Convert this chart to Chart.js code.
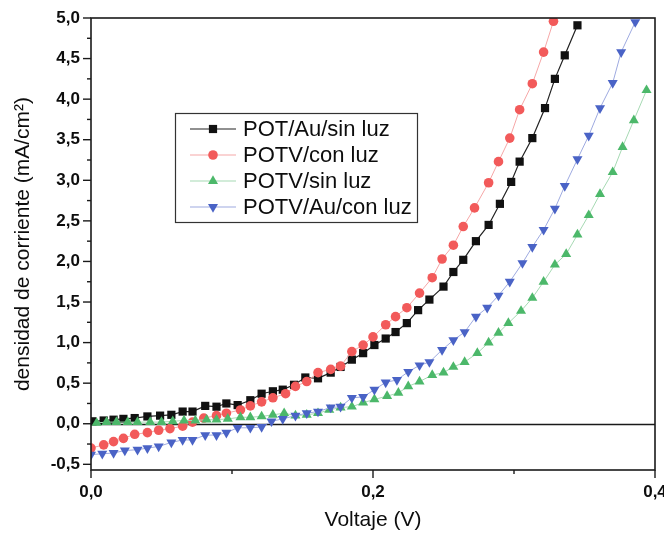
<!DOCTYPE html>
<html><head><meta charset="utf-8">
<script src="https://cdn.jsdelivr.net/npm/chart.js@4.4.1/dist/chart.umd.min.js"></script>
<style>html,body{margin:0;padding:0;background:#fff}canvas{display:block}</style>
</head><body>
<canvas id="c" width="664" height="535"></canvas>
<script>
// ---- data ----
const seriesLabels = ['POT/Au/sin luz', 'POTV/con luz', 'POTV/sin luz', 'POTV/Au/con luz'];

const potAuSinLuzV = [0.001,0.009,0.016,0.023,0.031,0.040,0.049,0.057,0.065,0.072,0.081,0.089,0.096,0.104,0.113,0.121,0.129,0.136,0.144,0.152,0.161,0.170,0.177,0.185,0.193,0.201,0.209,0.216,0.224,0.232,0.240,0.250,0.257,0.264,0.273,0.282,0.290,0.298,0.304,0.313,0.322,0.329,0.336,0.345];
const potAuSinLuzJ = [0.03,0.04,0.05,0.06,0.07,0.09,0.10,0.11,0.15,0.15,0.22,0.21,0.25,0.23,0.29,0.37,0.40,0.42,0.48,0.57,0.56,0.63,0.70,0.79,0.87,0.97,1.05,1.13,1.24,1.40,1.53,1.69,1.87,2.02,2.25,2.45,2.71,2.98,3.23,3.52,3.89,4.25,4.54,4.91];

const potvConLuzV = [0.000,0.009,0.016,0.023,0.031,0.040,0.048,0.056,0.065,0.072,0.080,0.089,0.096,0.106,0.113,0.121,0.129,0.138,0.145,0.153,0.161,0.170,0.177,0.185,0.193,0.200,0.209,0.216,0.224,0.233,0.242,0.249,0.257,0.264,0.272,0.282,0.289,0.297,0.304,0.313,0.321,0.328];
const potvConLuzJ = [-0.30,-0.26,-0.22,-0.18,-0.13,-0.11,-0.08,-0.06,-0.03,0.02,0.07,0.10,0.13,0.17,0.22,0.27,0.32,0.37,0.46,0.52,0.63,0.67,0.71,0.89,0.97,1.07,1.22,1.32,1.43,1.61,1.80,2.03,2.20,2.43,2.66,2.97,3.23,3.52,3.87,4.19,4.58,4.96];

const potvSinLuzV = [0.004,0.011,0.018,0.026,0.033,0.042,0.050,0.058,0.066,0.074,0.082,0.089,0.097,0.106,0.113,0.121,0.129,0.137,0.145,0.153,0.161,0.169,0.177,0.185,0.193,0.201,0.210,0.218,0.225,0.233,0.242,0.250,0.257,0.265,0.274,0.282,0.289,0.296,0.305,0.313,0.321,0.329,0.337,0.345,0.353,0.361,0.370,0.377,0.385,0.394];
const potvSinLuzJ = [0.01,0.02,0.02,0.02,0.02,0.02,0.02,0.03,0.04,0.04,0.05,0.05,0.06,0.08,0.08,0.09,0.11,0.13,0.10,0.11,0.13,0.17,0.20,0.21,0.26,0.30,0.34,0.38,0.46,0.52,0.60,0.63,0.70,0.76,0.87,1.00,1.12,1.24,1.39,1.55,1.75,1.96,2.09,2.33,2.57,2.83,3.10,3.41,3.74,4.11];

const potvAuConLuzV = [0.000,0.008,0.016,0.024,0.033,0.040,0.048,0.057,0.065,0.072,0.081,0.089,0.096,0.104,0.113,0.121,0.128,0.136,0.145,0.153,0.161,0.170,0.177,0.185,0.193,0.201,0.209,0.217,0.225,0.233,0.240,0.249,0.257,0.265,0.273,0.281,0.289,0.297,0.306,0.313,0.321,0.329,0.336,0.345,0.353,0.361,0.370,0.376,0.386];
const potvAuConLuzJ = [-0.38,-0.37,-0.36,-0.33,-0.32,-0.30,-0.28,-0.23,-0.20,-0.20,-0.14,-0.14,-0.11,-0.05,-0.05,-0.04,0.03,0.06,0.10,0.13,0.15,0.20,0.21,0.32,0.33,0.42,0.51,0.54,0.64,0.72,0.76,0.91,1.03,1.13,1.32,1.43,1.58,1.75,1.98,2.18,2.39,2.65,2.93,3.26,3.55,3.89,4.20,4.58,4.95];

const xTickValues = [0, 0.1, 0.2, 0.3, 0.4];
const xTickLabels = ['0,0', '', '0,2', '', '0,4'];
const yTickValues = [-0.5,-0.25,0,0.25,0.5,0.75,1,1.25,1.5,1.75,2,2.25,2.5,2.75,3,3.25,3.5,3.75,4,4.25,4.5,4.75,5];
const yTickLabels = ['-0,5','','0,0','','0,5','','1,0','','1,5','','2,0','','2,5','','3,0','','3,5','','4,0','','4,5','','5,0'];

// ---- styles ----
const FONT = "'Liberation Sans', Arial, sans-serif";
const markerColors = ['#111111', '#f25a5a', '#4cb86a', '#4a63c6'];
const lineColors = ['#222222', '#f6a7a7', '#a6d9b3', '#9eaae0'];
const pointStyles = ['rect', 'circle', 'triangle', 'triangle'];
const pointRotations = [0, 0, 0, 180];
const pointRadii = [5.8, 4.8, 5.8, 5.8];

function pairs(xs, ys) { return xs.map((x, i) => ({x: x, y: ys[i]})); }
const seriesData = [
  pairs(potAuSinLuzV, potAuSinLuzJ),
  pairs(potvConLuzV, potvConLuzJ),
  pairs(potvSinLuzV, potvSinLuzJ),
  pairs(potvAuConLuzV, potvAuConLuzJ)
];

const datasets = seriesLabels.map((lab, i) => ({
  label: lab,
  data: seriesData[i],
  borderColor: lineColors[i],
  borderWidth: i === 0 ? 1.2 : 1,
  backgroundColor: markerColors[i],
  pointBackgroundColor: markerColors[i],
  pointBorderColor: markerColors[i],
  pointBorderWidth: 0,
  pointStyle: pointStyles[i],
  rotation: pointRotations[i],
  pointRadius: pointRadii[i],
  pointHoverRadius: pointRadii[i],
  showLine: true,
  tension: 0,
  order: 4 - i
}));

const frameAndTicks = {
  id: 'frameAndTicks',
  beforeDatasetsDraw(chart) {
    const {ctx, chartArea: a, scales: {x, y}} = chart;
    ctx.save();
    ctx.strokeStyle = '#1a1a1a';
    ctx.lineWidth = 1.3;
    const y0 = Math.round(y.getPixelForValue(0)) + 0.5;
    ctx.beginPath(); ctx.moveTo(a.left, y0); ctx.lineTo(a.right, y0); ctx.stroke();
    ctx.restore();
  },
  afterDraw(chart) {
    const {ctx, chartArea: a, scales: {x, y}} = chart;
    ctx.save();
    ctx.strokeStyle = '#1a1a1a';
    ctx.lineWidth = 1.6;
    ctx.strokeRect(a.left, a.top, a.right - a.left, a.bottom - a.top);
    ctx.lineWidth = 1.4;
    xTickValues.forEach((v, i) => {
      const px = x.getPixelForValue(v);
      const len = xTickLabels[i] ? 8 : 4;
      ctx.beginPath(); ctx.moveTo(px, a.bottom); ctx.lineTo(px, a.bottom + len); ctx.stroke();
    });
    yTickValues.forEach((v, i) => {
      const py = y.getPixelForValue(v);
      const len = yTickLabels[i] ? 8 : 4;
      ctx.beginPath(); ctx.moveTo(a.left - len, py); ctx.lineTo(a.left, py); ctx.stroke();
    });
    // legend
    const bx = 175, by = 113, bw = 242, bh = 109;
    ctx.fillStyle = '#ffffff';
    ctx.fillRect(bx, by, bw, bh);
    ctx.lineWidth = 1.2;
    ctx.strokeStyle = '#333333';
    ctx.strokeRect(bx + 0.5, by + 0.5, bw, bh);
    const rowY = [129, 155, 181, 207];
    chart.data.datasets.forEach((ds, i) => {
      const cy = rowY[i];
      ctx.strokeStyle = ds.borderColor;
      ctx.lineWidth = 1.2;
      ctx.beginPath(); ctx.moveTo(190, cy); ctx.lineTo(236, cy); ctx.stroke();
      ctx.fillStyle = ds.pointBackgroundColor;
      const cx = 213, r = ds.pointRadius;
      ctx.beginPath();
      if (ds.pointStyle === 'rect') {
        const s = r * Math.SQRT1_2;
        ctx.rect(cx - s, cy - s, 2 * s, 2 * s);
      } else if (ds.pointStyle === 'circle') {
        ctx.arc(cx, cy, r, 0, Math.PI * 2);
      } else {
        const dir = ds.rotation === 180 ? -1 : 1;
        ctx.moveTo(cx, cy - dir * r);
        ctx.lineTo(cx + r * 0.866, cy + dir * r * 0.5);
        ctx.lineTo(cx - r * 0.866, cy + dir * r * 0.5);
        ctx.closePath();
      }
      ctx.fill();
      ctx.fillStyle = '#0d0d0d';
      ctx.font = '22px ' + FONT;
      ctx.textBaseline = 'middle';
      ctx.textAlign = 'left';
      ctx.fillText(ds.label, 243, cy + 1);
    });
    ctx.restore();
  }
};

new Chart(document.getElementById('c'), {
  type: 'scatter',
  data: {datasets: datasets},
  options: {
    responsive: false,
    animation: false,
    devicePixelRatio: 1,
    layout: {padding: {left: 5, top: 18, right: 9, bottom: 2}},
    plugins: {legend: {display: false}, tooltip: {enabled: false}},
    scales: {
      x: {
        type: 'linear', min: 0, max: 0.4,
        afterBuildTicks(s) { s.ticks = xTickValues.map(v => ({value: v})); },
        afterFit(s) { s.height = 63; s.paddingLeft = 0; s.paddingRight = 0; },
        grid: {display: false, drawTicks: true, tickLength: 8},
        border: {display: false},
        ticks: {
          autoSkip: false, maxRotation: 0, padding: 4, color: '#0d0d0d',
          font: {family: FONT, size: 17, weight: 'bold'},
          callback: (v, i) => xTickLabels[i]
        },
        title: {display: true, text: 'Voltaje (V)', color: '#0d0d0d', font: {family: FONT, size: 21}, padding: {top: 0, bottom: 0}}
      },
      y: {
        type: 'linear', min: -0.57, max: 5,
        afterBuildTicks(s) { s.ticks = yTickValues.map(v => ({value: v})); },
        afterFit(s) { s.width = 86; s.paddingTop = 0; s.paddingBottom = 0; },
        grid: {display: false, drawTicks: true, tickLength: 8},
        border: {display: false},
        ticks: {
          autoSkip: false, padding: 3, color: '#0d0d0d',
          font: {family: FONT, size: 17, weight: 'bold'},
          callback: (v, i) => yTickLabels[i]
        },
        title: {display: true, text: 'densidad de corriente (mA/cm²)', color: '#0d0d0d', font: {family: FONT, size: 21}, padding: {top: 6, bottom: 0}}
      }
    }
  },
  plugins: [frameAndTicks]
});
</script>
</body></html>
